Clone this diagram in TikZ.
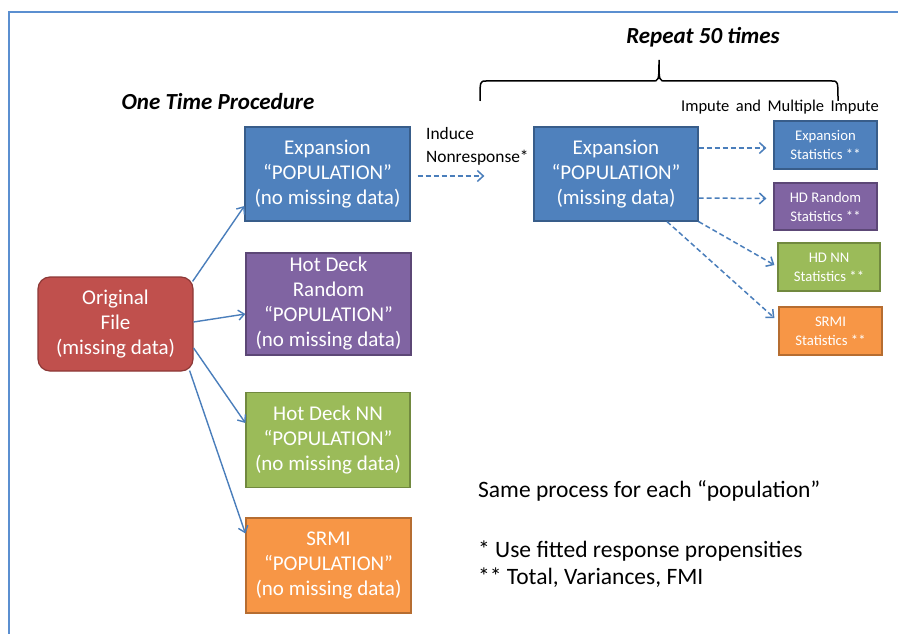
\documentclass[tikz,border=0pt]{standalone}
\usepackage{fontspec}
\setmainfont{Carlito}
\usetikzlibrary{arrows.meta,calc}
\definecolor{cblue}{HTML}{4F81BD}
\definecolor{cblueb}{HTML}{385D8A}
\definecolor{cpurple}{HTML}{8064A2}
\definecolor{cpurpleb}{HTML}{5C4776}
\definecolor{cgreen}{HTML}{9BBB59}
\definecolor{cgreenb}{HTML}{71893F}
\definecolor{corange}{HTML}{F79646}
\definecolor{corangeb}{HTML}{B66D31}
\definecolor{cred}{HTML}{C0504D}
\definecolor{credb}{HTML}{8C3836}
\definecolor{carrow}{HTML}{4A7EBB}
\definecolor{cframe}{HTML}{5B8FD0}
\tikzset{
  bigbox/.style={draw, line width=1.2pt, text=white, align=center, inner sep=0pt,
    font=\fontsize{21}{25}\selectfont},
  statbox/.style={draw, line width=1.2pt, text=white, align=center, inner sep=0pt,
    font=\fontsize{14.7}{19}\selectfont},
  solidarrow/.style={draw=carrow, line width=1.4pt, -{Straight Barb[length=6pt,width=10pt,line width=1.4pt]}},
  dasharrow/.style={draw=carrow, line width=1.5pt, dash pattern=on 5pt off 3pt, -{Straight Barb[length=6pt,width=11pt,line width=1.5pt]}},
  titletext/.style={font=\fontsize{23}{27}\selectfont\bfseries\itshape},
  plaintext/.style={font=\fontsize{23.5}{27}\selectfont, align=left, anchor=west, inner sep=0pt},
}
\begin{document}
\begin{tikzpicture}[x=1pt,y=-1pt]
\useasboundingbox (0,0) rectangle (898,634);
\fill[white] (0,0) rectangle (898,634);
\draw[cframe, line width=1.5pt] (898,12) -- (9,12) -- (9,634);

\node[titletext] (onetime) at (218,102) {One Time Procedure};
\node[titletext] (repeat) at (703,37) {Repeat 50 times};
\node[font=\fontsize{16.5}{20}\selectfont, inner sep=0pt] (impute) at (780,107) {Impute\, and\, Multiple\, Impute};

\draw[line width=1.5pt] (480,101) .. controls (480,81) .. (486,81) -- (652,81)
  .. controls (659,81) .. (659,60) .. controls (659,81) .. (666,81) -- (832,81)
  .. controls (838,81) .. (838,101);

\node[bigbox, fill=cred, draw=credb, rounded corners=12pt, minimum width=155, minimum height=94] (orig) at (115.5,324) {Original\\File\\(missing data)};
\node[bigbox, fill=cblue, draw=cblueb, minimum width=165, minimum height=94] (exp1) at (327.5,174) {Expansion\\“POPULATION”\\(no missing data)};
\node[bigbox, fill=cpurple, draw=cpurpleb, minimum width=165, minimum height=102] (hdr) at (328.5,304) {Hot Deck\\Random\\“POPULATION”\\(no missing data)};
\node[bigbox, fill=cgreen, draw=cgreenb, minimum width=164, minimum height=95] (hdnn) at (328,440) {Hot Deck NN\\“POPULATION”\\(no missing data)};
\node[bigbox, fill=corange, draw=corangeb, minimum width=165, minimum height=95] (srmi) at (328.5,565.5) {SRMI\\“POPULATION”\\(no missing data)};

\node[bigbox, fill=cblue, draw=cblueb, minimum width=164, minimum height=94] (exp2) at (616,174) {Expansion\\“POPULATION”\\(missing data)};

\node[statbox, fill=cblue, draw=cblueb, minimum width=103, minimum height=48] (s1) at (825.5,145) {Expansion\\Statistics **};
\node[statbox, fill=cpurple, draw=cpurpleb, minimum width=103, minimum height=47] (s2) at (825.5,206.5) {HD Random\\Statistics **};
\node[statbox, fill=cgreen, draw=cgreenb, minimum width=102, minimum height=48] (s3) at (829,267) {HD NN\\Statistics **};
\node[statbox, fill=corange, draw=corangeb, minimum width=103, minimum height=48] (s4) at (830.5,331) {SRMI\\Statistics **};

\node[font=\fontsize{17.4}{23}\selectfont, align=left, anchor=north west, inner sep=0pt] (induce) at (426,127) {Induce\\Nonresponse*};

\node[plaintext] (same) at (478,491) {Same process for each “population”};
\node[plaintext, anchor=north west] (notes) at (478,541) {* Use fitted response propensities\\** Total, Variances, FMI};

\draw[solidarrow] ($(orig.north east)+(-1,5)$) -- ($(exp1.west)+(0,32)$);
\draw[solidarrow] ($(orig.east)+(0,-2)$) -- ($(hdr.west)+(0,10)$);
\draw[solidarrow] ($(orig.east)+(0,24)$) -- ($(hdnn.west)+(0,-17)$);
\draw[solidarrow] ($(orig.south east)+(-4,-1)$) -- ($(srmi.west)+(0,-32)$);

\coordinate (indend) at ($(exp2.west)+(-49,2)$);
\draw[dasharrow] ($(exp1.east)+(7,2)$) -- (indend);

\draw[dasharrow] ($(exp2.east)+(0,-26)$) -- ($(s1.west)+(-7,3)$);
\draw[dasharrow] ($(exp2.east)+(0,24)$) -- ($(s2.west)+(-7,-8)$);
\draw[dasharrow] (exp2.south east) -- ($(s3.west)+(-3,-2)$);
\draw[dasharrow] ($(exp2.south)+(51,0)$) -- ($(s4.west)+(-4,-13)$);
\end{tikzpicture}
\end{document}
